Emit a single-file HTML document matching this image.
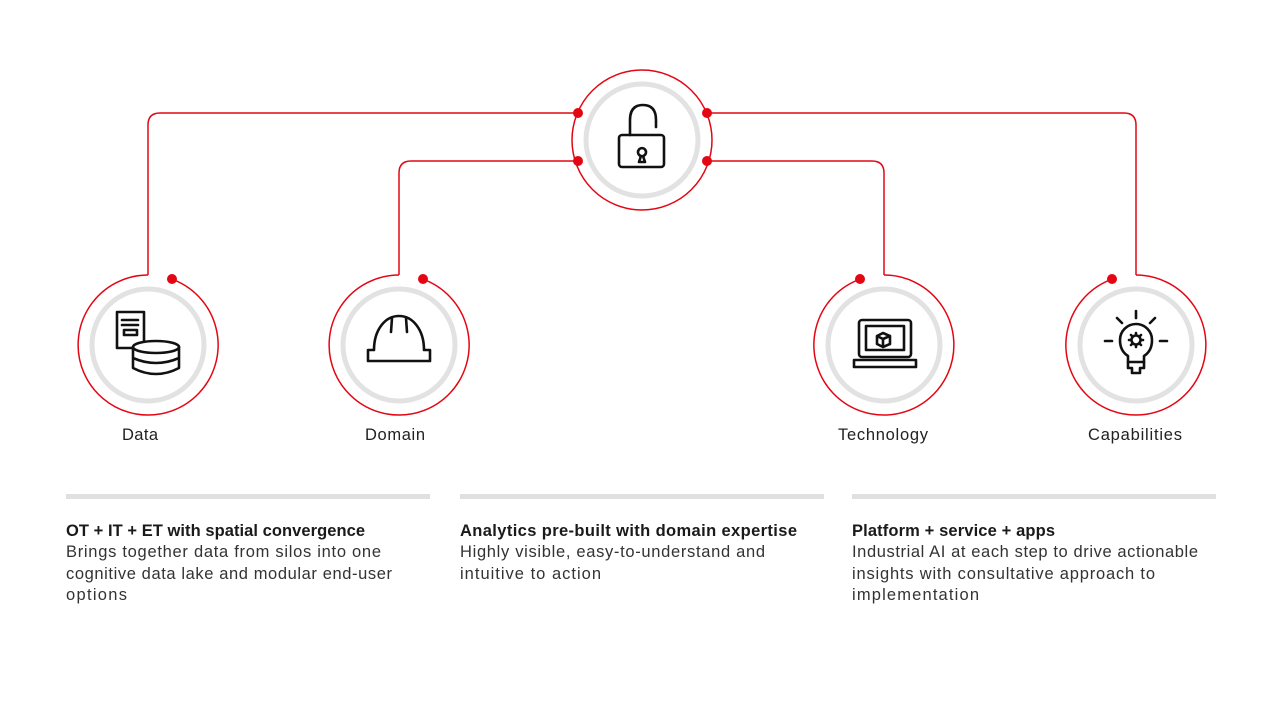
<!DOCTYPE html>
<html><head><meta charset="utf-8"><style>
html,body{margin:0;padding:0;background:#fff}
svg{display:block}
text{font-family:"Liberation Sans",sans-serif;fill:#222}
.lbl{font-size:16.5px}
.b{font-size:16.5px;font-weight:bold;fill:#1a1a1a}
.t{font-size:16.5px;fill:#333}
</style></head><body>
<svg width="1280" height="720" viewBox="0 0 1280 720" xmlns="http://www.w3.org/2000/svg">
<g fill="none" stroke="#e30613" stroke-width="1.5">
<path d="M578 113 H160 Q148 113 148 125 V275"/>
<path d="M578 161 H411 Q399 161 399 173 V275"/>
<path d="M707 113 H1124 Q1136 113 1136 125 V275"/>
<path d="M707 161 H872 Q884 161 884 173 V275"/>
<circle cx="642" cy="140" r="70"/>
<path d="M148 275 A70 70 0 1 0 172 279.2"/>
<path d="M399 275 A70 70 0 1 0 423 279.2"/>
<path d="M884 275 A70 70 0 1 1 860 279.2"/>
<path d="M1136 275 A70 70 0 1 1 1112 279.2"/>
</g>
<g fill="#e30613">
<circle cx="578" cy="113" r="5"/><circle cx="578" cy="161" r="5"/>
<circle cx="707" cy="113" r="5"/><circle cx="707" cy="161" r="5"/>
<circle cx="172" cy="279" r="5"/><circle cx="423" cy="279" r="5"/>
<circle cx="860" cy="279" r="5"/><circle cx="1112" cy="279" r="5"/>
</g>
<g fill="none" stroke="#e2e2e2" stroke-width="5">
<circle cx="642" cy="140" r="56"/>
<circle cx="148" cy="345" r="56"/>
<circle cx="399" cy="345" r="56"/>
<circle cx="884" cy="345" r="56"/>
<circle cx="1136" cy="345" r="56"/>
</g>
<g fill="none" stroke="#111" stroke-width="2.6" stroke-linejoin="round" stroke-linecap="round">
<path d="M630 135 V120 Q630 105 643 105 Q656 105 656 120 V127"/>
<rect x="619" y="135" width="45" height="32" rx="3"/>
<path d="M641 156 L639 162 H645 L643 156 A4 4 0 1 0 641 156 Z"/>
<rect x="117" y="312" width="27" height="36"/>
<path d="M122 320 H138 M122 325 H138"/>
<rect x="124" y="330" width="13" height="5"/>
<ellipse cx="156" cy="347" rx="23" ry="6" fill="#fff"/>
<path d="M133 347 V368 Q156 380 179 368 V347 M133 358 Q156 368 179 358"/>
<path d="M368 350 H374 C374 330 385 316 399 316 C413 316 424 330 424 350 H430 V361 H368 Z"/>
<path d="M392 318 L391 332 M406 318 L407 332"/>
<rect x="859" y="320" width="52" height="37" rx="3"/>
<rect x="866" y="326" width="38" height="24"/>
<path d="M854 360 H916 V367 H854 Z"/>
<path d="M877 336 L883 333 L890 336 V344 L883 347 L877 344 Z M877 336 L883 339 L890 336 M883 339 V347"/>
<path d="M1136 311 V318 M1117 318 L1122 323 M1155 318 L1150 323 M1105 341 H1112 M1160 341 H1167"/>
<path d="M1128 362 V356 Q1120 351 1120 340 A16 16 0 0 1 1152 340 Q1152 351 1144 356 V362 Z"/>
<path d="M1128 362 V368 H1132 V373 H1140 V368 H1144 V362"/>
<circle cx="1136" cy="340" r="4.5"/>
<path d="M1136 333 V335 M1136 345 V347 M1129 340 H1131 M1141 340 H1143 M1131 335 L1132.5 336.5 M1141 335 L1139.5 336.5 M1131 345 L1132.5 343.5 M1141 345 L1139.5 343.5"/>
</g>
<text class="lbl" x="122" y="440" textLength="36" lengthAdjust="spacing">Data</text>
<text class="lbl" x="365" y="440" textLength="60" lengthAdjust="spacing">Domain</text>
<text class="lbl" x="838" y="440" textLength="90" lengthAdjust="spacing">Technology</text>
<text class="lbl" x="1088" y="440" textLength="94" lengthAdjust="spacing">Capabilities</text>
<g fill="#e0e0e0">
<rect x="66" y="494" width="364" height="5"/>
<rect x="460" y="494" width="364" height="5"/>
<rect x="852" y="494" width="364" height="5"/>
</g>
<text class="b" x="66" y="536" textLength="299" lengthAdjust="spacing">OT + IT + ET with spatial convergence</text>
<text class="t" x="66" y="557" textLength="315" lengthAdjust="spacing">Brings together data from silos into one</text>
<text class="t" x="66" y="579" textLength="326" lengthAdjust="spacing">cognitive data lake and modular end-user</text>
<text class="t" x="66" y="600" textLength="61" lengthAdjust="spacing">options</text>
<text class="b" x="460" y="536" textLength="337" lengthAdjust="spacing">Analytics pre-built with domain expertise</text>
<text class="t" x="460" y="557" textLength="305" lengthAdjust="spacing">Highly visible, easy-to-understand and</text>
<text class="t" x="460" y="579" textLength="141" lengthAdjust="spacing">intuitive to action</text>
<text class="b" x="852" y="536" textLength="203" lengthAdjust="spacing">Platform + service + apps</text>
<text class="t" x="852" y="557" textLength="346" lengthAdjust="spacing">Industrial AI at each step to drive actionable</text>
<text class="t" x="852" y="579" textLength="303" lengthAdjust="spacing">insights with consultative approach to</text>
<text class="t" x="852" y="600" textLength="127" lengthAdjust="spacing">implementation</text>
</svg>
</body></html>
